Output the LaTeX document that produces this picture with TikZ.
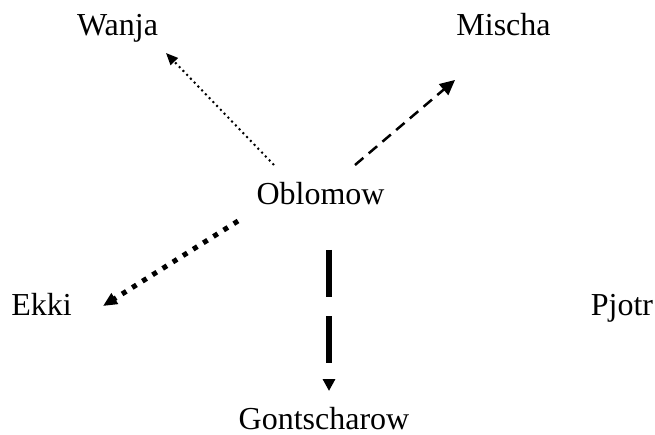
\documentclass[tikz,border=0pt]{standalone}
\usepackage{fontspec}
\setmainfont{Liberation Serif}
\usetikzlibrary{arrows.meta}
\begin{document}
\begin{tikzpicture}[x=1pt,y=-1pt,
  lbl/.style={inner sep=0pt,anchor=base,font=\fontsize{32}{38}\selectfont},
  conn/.style={line cap=butt}]
\useasboundingbox (0,0) rectangle (655,435);
\node[lbl] (wanja) at (117.5,36) {Wanja};
\node[lbl] (mischa) at (503.5,35.5) {Mischa};
\node[lbl] (oblomow) at (320.5,205) {Oblomow};
\node[lbl] (ekki) at (41.5,316) {Ekki};
\node[lbl] (pjotr) at (622,316) {Pjotr};
\node[lbl] (gont) at (324,429) {Gontscharow};
% connector end points
\coordinate (oW) at (274,165);
\coordinate (wE) at (166,53);
\coordinate (oM) at (355,165);
\coordinate (mE) at (455,80);
\coordinate (oE) at (238,221);
\coordinate (eE) at (103,306);
\coordinate (oG) at (329,250);
\coordinate (gE) at (329,391);
\draw[conn,line width=2pt,dash pattern=on 2pt off 3.4pt,-{Triangle[length=12pt,width=10pt]}] (oW) -- (wE);
\draw[conn,line width=2.5pt,dash pattern=on 11pt off 7pt,-{Triangle[length=15pt,width=14pt]}] (oM) -- (mE);
\draw[conn,line width=5pt,dash pattern=on 5pt off 7pt,-{Triangle[length=14pt,width=12pt]}] (oE) -- (eE);
\draw[conn,line width=6pt,dash pattern=on 47pt off 19pt,-{Triangle[length=12pt,width=12pt]}] (oG) -- (gE);
\end{tikzpicture}
\end{document}
